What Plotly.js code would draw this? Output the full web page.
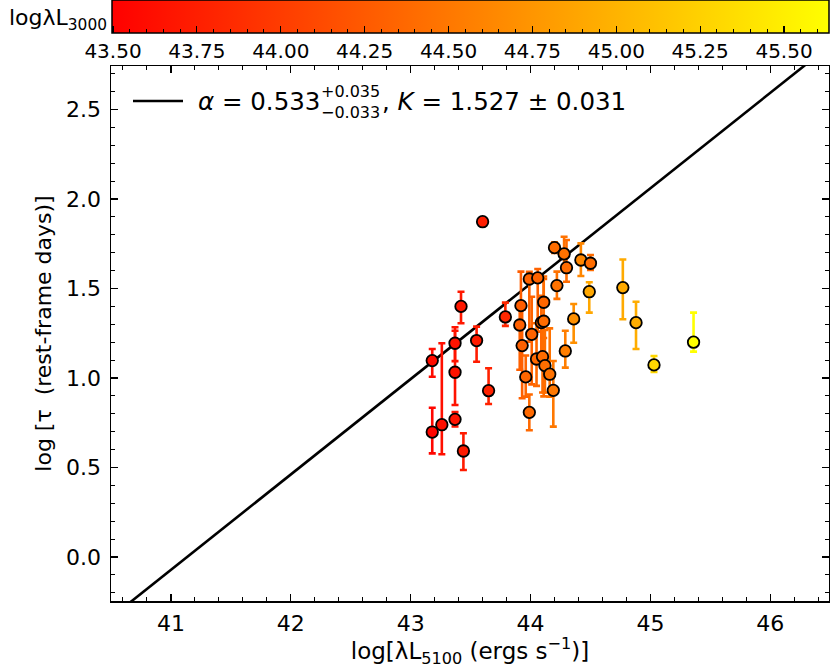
<!DOCTYPE html>
<html><head><meta charset="utf-8">
<script src="https://cdn.plot.ly/plotly-3.0.1.min.js"></script>
<style>html,body{margin:0;padding:0;background:#fff}</style>
</head><body><div id="chart" style="width:830px;height:668px"></div>
<script>
// ---- data ----
const logL5100 = [43.18, 43.18, 43.26, 43.37, 43.37, 43.37, 43.42, 43.44, 43.55, 43.60, 43.65, 43.79,
  43.92, 43.91, 43.93, 43.96, 43.99, 43.99, 44.01, 44.06, 44.05, 44.09, 44.10, 44.11, 44.11, 44.12,
  44.16, 44.19, 44.20, 44.22, 44.28, 44.30, 44.29, 44.36, 44.42, 44.50, 44.49, 44.77, 44.88, 45.03, 45.36];
const logTau = [1.097, 0.698, 0.739, 1.194, 1.032, 0.769, 1.400, 0.592, 1.209, 1.873, 0.929, 1.341,
  1.404, 1.296, 1.181, 1.006, 1.553, 0.808, 1.244, 1.559, 1.106, 1.309, 1.119, 1.423, 1.317, 1.069,
  1.021, 0.931, 1.728, 1.516, 1.693, 1.616, 1.151, 1.330, 1.659, 1.641, 1.482, 1.505, 1.309, 1.073, 1.200];
const errUp = [0.065, 0.136, 0.455, 0.089, 0.232, 0.04, 0.082, 0.099, 0.078, 0.0, 0.125, 0.08,
  0.19, 0.10, 0.20, 0.12, 0.04, 0.10, 0.21, 0.05, 0.20, 0.15, 0.20, 0.13, 0.25, 0.20,
  0.256, 0.164, 0.03, 0.078, 0.096, 0.155, 0.113, 0.083, 0.093, 0.046, 0.053, 0.157, 0.117, 0.05, 0.165];
const errDown = [0.09, 0.119, 0.165, 0.10, 0.183, 0.04, 0.094, 0.106, 0.118, 0.0, 0.074, 0.05,
  0.10, 0.25, 0.294, 0.11, 0.35, 0.10, 0.28, 0.30, 0.15, 0.20, 0.20, 0.20, 0.42, 0.15,
  0.125, 0.203, 0.03, 0.074, 0.09, 0.078, 0.093, 0.133, 0.089, 0.038, 0.117, 0.177, 0.147, 0.04, 0.053];
const logL3000 = [43.60, 43.55, 43.62, 43.66, 43.66, 43.66, 43.70, 43.72, 43.72, 43.75, 43.78, 43.82,
  44.28, 44.30, 44.30, 44.35, 44.33, 44.38, 44.33, 44.33, 44.38, 44.35, 44.40, 44.35, 44.40, 44.42,
  44.45, 44.50, 44.40, 44.45, 44.45, 44.40, 44.55, 44.70, 44.62, 44.40, 44.90, 44.92, 44.95, 45.30, 45.63];
const fitAlpha = 0.533, fitK = 1.527, fitPivot = 44;
const xTicks = [41, 42, 43, 44, 45, 46];
const yTicks = [0.0, 0.5, 1.0, 1.5, 2.0, 2.5];
const cbTicks = [43.50, 43.75, 44.00, 44.25, 44.50, 44.75, 45.00, 45.25, 45.50];

// ---- style / layout constants ----
const FONT = '"DejaVu Sans", sans-serif';
const cMin = 43.497, cMax = 45.634;
const xRange = [40.5, 46.49], yRange = [-0.246, 2.743];
const plotL = 111, plotR = 829, plotT = 66, plotB = 601;
const pw = plotR - plotL, ph = plotB - plotT;
const px2x = p => (p - plotL) / pw;
const py2y = p => (plotB - p) / ph;
const SCALE = [[0, 'rgb(255,0,0)'], [1, 'rgb(255,255,0)']];
const colorOf = c => {
  const f = Math.max(0, Math.min(1, (c - cMin) / (cMax - cMin)));
  return 'rgb(255,' + Math.round(255 * f) + ',0)';
};

const traces = [];
// fit line
const lineX = xRange.slice();
traces.push({x: lineX, y: lineX.map(v => fitK + fitAlpha * (v - fitPivot)), mode: 'lines',
  line: {color: 'black', width: 2.6}, hoverinfo: 'skip', showlegend: false});
// error bars, one per point so each takes its point's colour
logL5100.forEach((xv, i) => {
  traces.push({x: [xv], y: [logTau[i]], mode: 'markers',
    marker: {size: 1, color: 'rgba(0,0,0,0)'},
    error_y: {type: 'data', symmetric: false, array: [errUp[i]], arrayminus: [errDown[i]],
      color: colorOf(logL3000[i]), thickness: 2.6, width: 3.5},
    hoverinfo: 'skip', showlegend: false});
});
const cbBase = {orientation: 'h', x: px2x(470.5), xanchor: 'center', xref: 'paper',
  y: py2y(0), yanchor: 'top', yref: 'paper',
  len: 717, lenmode: 'pixels', thickness: 33, thicknessmode: 'pixels',
  xpad: 0, ypad: 0, title: {text: ''}};
// main points + colour bar (major ticks and labels)
traces.push({x: logL5100, y: logTau, mode: 'markers', showlegend: false,
  marker: {size: 11.5, color: logL3000, cmin: cMin, cmax: cMax, colorscale: SCALE,
    line: {color: 'black', width: 1.8}, showscale: true,
    colorbar: Object.assign({}, cbBase, {outlinewidth: 1.5, outlinecolor: 'black',
      ticks: 'inside', ticklen: 7, tickwidth: 1.2, tickcolor: 'black', ticklabeloverflow: 'allow',
      tickmode: 'array', tickvals: cbTicks, ticktext: cbTicks.map(v => v.toFixed(2)),
      tickfont: {family: FONT, size: 20, color: 'black'}})}});
// minor ticks of the colour bar: a transparent overlay bar
const cbMinor = [];
for (let v = 43.55; v < cMax; v += 0.05) cbMinor.push(+v.toFixed(2));
traces.push({x: [null], y: [null], mode: 'markers', showlegend: false, hoverinfo: 'skip',
  marker: {size: 1, color: [cMin], cmin: cMin, cmax: cMax,
    colorscale: [[0, 'rgba(0,0,0,0)'], [1, 'rgba(0,0,0,0)']], showscale: true,
    colorbar: Object.assign({}, cbBase, {outlinewidth: 0, bgcolor: 'rgba(0,0,0,0)',
      ticks: 'inside', ticklen: 4, tickwidth: 1, tickcolor: 'black',
      tickmode: 'array', tickvals: cbMinor, showticklabels: false})}});

const axisCommon = {showgrid: false, zeroline: false, showline: true, linecolor: 'black', linewidth: 1.5,
  mirror: 'allticks', ticks: 'inside', ticklen: 7, tickwidth: 1.3, tickcolor: 'black',
  tickfont: {family: FONT, size: 22, color: 'black'}};

// legend text geometry
const cnv = document.createElement('canvas').getContext('2d');
const measure = (s, size) => { cnv.font = size + 'px ' + FONT; return cnv.measureText(s).width; };
const LFS = 24.5, LSS = 16;
const legX0 = 197;
const wA = measure('α = 0.533', LFS);
const wB = measure('+0.035', LSS);
const legY = py2y(101);

const layout = {
  width: 830, height: 668, paper_bgcolor: 'white', plot_bgcolor: 'white',
  margin: {l: plotL, r: 830 - plotR, t: plotT, b: 668 - plotB, autoexpand: false},
  font: {family: FONT, color: 'black'},
  xaxis: Object.assign({}, axisCommon, {range: xRange, tickmode: 'array', tickvals: xTicks,
    ticktext: xTicks.map(String), ticklabelstandoff: 2,
    minor: {dtick: 0.2, tick0: 40, ticks: 'inside', ticklen: 4, tickwidth: 1, tickcolor: 'black'},
    title: {text: 'log[λL<sub>5100</sub> (ergs s<sup>−1</sup>)]', font: {family: FONT, size: 23}, standoff: 0}}),
  yaxis: Object.assign({}, axisCommon, {range: yRange, tickmode: 'array', tickvals: yTicks,
    ticktext: yTicks.map(v => v.toFixed(1)), ticklabelstandoff: 4,
    minor: {dtick: 0.1, tick0: 0, ticks: 'inside', ticklen: 4, tickwidth: 1, tickcolor: 'black'},
    title: {text: 'log [τ  (rest-frame days)]', font: {family: FONT, size: 22}, standoff: 8}}),
  shapes: [{type: 'line', xref: 'paper', yref: 'paper', x0: px2x(133), x1: px2x(183), y0: legY, y1: legY,
    line: {color: 'black', width: 2.6}}],
  annotations: [
    {xref: 'paper', yref: 'paper', x: px2x(legX0), y: legY, xanchor: 'left', yanchor: 'middle', showarrow: false,
      text: '<i>α</i> = 0.533', font: {family: FONT, size: LFS}, borderpad: 0},
    {xref: 'paper', yref: 'paper', x: px2x(legX0 + wA + 1), y: py2y(102), xanchor: 'left', yanchor: 'middle', showarrow: false,
      text: '+0.035<br>−0.033', align: 'left', font: {family: FONT, size: LSS}, borderpad: 0},
    {xref: 'paper', yref: 'paper', x: px2x(legX0 + wA + wB + 2), y: legY, xanchor: 'left', yanchor: 'middle', showarrow: false,
      text: ', <i>K</i> = 1.527 ± 0.031', font: {family: FONT, size: LFS}, borderpad: 0},
    {xref: 'paper', yref: 'paper', x: px2x(108), y: py2y(19), xanchor: 'right', yanchor: 'middle', showarrow: false,
      text: 'logλL<sub>3000</sub>', font: {family: FONT, size: 22}, borderpad: 0}
  ]
};
Plotly.newPlot('chart', traces, layout, {displayModeBar: false, staticPlot: true});
</script>
</body></html>
